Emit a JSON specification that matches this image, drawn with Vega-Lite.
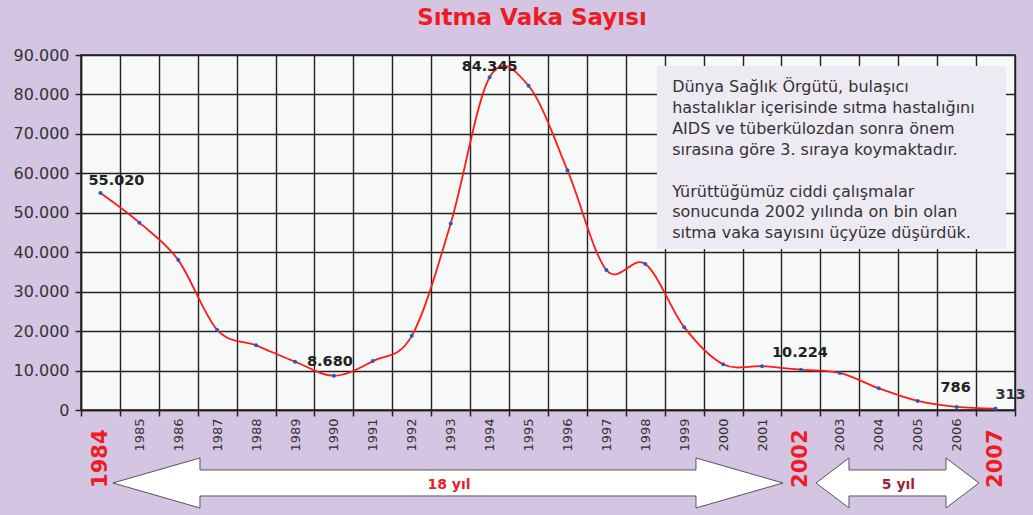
{
  "$schema": "https://vega.github.io/schema/vega-lite/v6.json",
  "width": 934,
  "height": 355,
  "autosize": {"type": "none"},
  "padding": {"left": 81, "top": 55, "right": 18, "bottom": 105},
  "background": "#d4c6e2",
  "title": {
    "text": "Sıtma Vaka Sayısı",
    "font": "DejaVu Sans",
    "fontSize": 23,
    "fontWeight": "bold",
    "color": "#ed1c24",
    "anchor": "middle",
    "frame": "group",
    "dx": -16,
    "offset": -1,
    "baseline": "alphabetic"
  },
  "config": {
    "view": {"fill": "#f7f8f8", "stroke": "#222222", "strokeWidth": 1.5},
    "font": "DejaVu Sans",
    "axisY": {
      "title": null,
      "values": [0, 10000, 20000, 30000, 40000, 50000, 60000, 70000, 80000, 90000],
      "labelExpr": "replace(format(datum.value, ','), ',', '.')",
      "labelOverlap": false,
      "grid": true,
      "gridColor": "#222222",
      "gridWidth": 1.4,
      "gridOpacity": 1,
      "domainColor": "#222222",
      "domainWidth": 1.5,
      "tickColor": "#222222",
      "tickWidth": 1.5,
      "tickSize": 6,
      "labelPadding": 6,
      "labelFont": "DejaVu Sans",
      "labelFontSize": 16,
      "labelColor": "#333333"
    }
  },
  "datasets": {
    "malaria": [
      {"year": "1984", "v": 55020, "label": "55.020"},
      {"year": "1985", "v": 47500},
      {"year": "1986", "v": 38000},
      {"year": "1987", "v": 20300},
      {"year": "1988", "v": 16400},
      {"year": "1989", "v": 12250},
      {"year": "1990", "v": 8680, "label": "8.680"},
      {"year": "1991", "v": 12400},
      {"year": "1992", "v": 18800},
      {"year": "1993", "v": 47300},
      {"year": "1994", "v": 84345, "label": "84.345"},
      {"year": "1995", "v": 82200},
      {"year": "1996", "v": 60800},
      {"year": "1997", "v": 35500},
      {"year": "1998", "v": 37000},
      {"year": "1999", "v": 21000},
      {"year": "2000", "v": 11600},
      {"year": "2001", "v": 11100},
      {"year": "2002", "v": 10224, "label": "10.224"},
      {"year": "2003", "v": 9400},
      {"year": "2004", "v": 5500},
      {"year": "2005", "v": 2300},
      {"year": "2006", "v": 786, "label": "786"},
      {"year": "2007", "v": 313, "label": "313"}
    ],
    "box": [{"x0": 14.8, "x1": 23.77, "v": 87200, "v2": 40800}],
    "note": [
      {"px": 15.19, "v": 83900, "text": ["Dünya Sağlık Örgütü, bulaşıcı", "hastalıklar içerisinde sıtma hastalığını", "AIDS ve tüberkülozdan sonra önem", "sırasına göre 3. sıraya koymaktadır."]},
      {"px": 15.19, "v": 57400, "text": ["Yürüttüğümüz ciddi çalışmalar", "sonucunda 2002 yılında on bin olan", "sıtma vaka sayısını üçyüze düşürdük."]}
    ],
    "arrows": [
      {"px": 9.43, "v": -18500, "label": "18 yıl", "kind": "long"},
      {"px": 20.98, "v": -18500, "label": "5 yıl", "kind": "short"}
    ]
  },
  "resolve": {"scale": {"x": "independent"}, "axis": {"x": "independent"}},
  "layer": [
    {
      "data": {"name": "box"},
      "mark": {"type": "rect", "fill": "#eeeaf3", "stroke": null},
      "encoding": {
        "x": {"field": "x0", "type": "quantitative", "scale": {"domain": [0, 24], "nice": false, "zero": false}, "axis": null},
        "x2": {"field": "x1"},
        "y": {"field": "v", "type": "quantitative", "scale": {"domain": [0, 90000], "nice": false}, "title": null},
        "y2": {"field": "v2"}
      }
    },
    {
      "data": {"name": "malaria"},
      "layer": [
        {
          "mark": {"type": "line", "color": "#ff1a1a", "strokeWidth": 1.8, "interpolate": "cardinal"},
          "encoding": {
            "x": {
              "field": "year", "type": "ordinal",
              "scale": {"type": "band", "paddingInner": 0, "paddingOuter": 0},
              "axis": {
                "title": null,
                "tickBand": "extent",
                "grid": true,
                "gridColor": "#222222",
                "gridWidth": 1.4,
                "gridOpacity": 1,
                "domainColor": "#222222",
                "domainWidth": 1.5,
                "tickColor": "#222222",
                "tickWidth": 1.5,
                "tickSize": 6,
                "labelAngle": -90,
                "labelFont": "DejaVu Sans",
                "labelFontSize": {"condition": {"test": "datum.value == '1984' || datum.value == '2002' || datum.value == '2007'", "value": 21}, "value": 13},
                "labelFontWeight": {"condition": {"test": "datum.value == '1984' || datum.value == '2002' || datum.value == '2007'", "value": "bold"}, "value": "normal"},
                "labelColor": {"condition": {"test": "datum.value == '1984' || datum.value == '2002' || datum.value == '2007'", "value": "#ee1c25"}, "value": "#333333"},
                "labelPadding": {"condition": {"test": "datum.value == '1984' || datum.value == '2002' || datum.value == '2007'", "value": 13}, "value": 2}
              }
            },
            "y": {"field": "v", "type": "quantitative", "scale": {"domain": [0, 90000], "nice": false}, "title": null}
          }
        },
        {
          "mark": {"type": "point", "filled": true, "color": "#1f5cc4", "size": 16, "opacity": 1},
          "encoding": {
            "x": {"field": "year", "type": "ordinal"},
            "y": {"field": "v", "type": "quantitative"}
          }
        },
        {
          "transform": [{"filter": "datum.year == '1984'"}],
          "mark": {"type": "text", "font": "DejaVu Sans", "fontWeight": "bold", "fontSize": 14.5, "color": "#222222", "baseline": "alphabetic", "align": "center", "dx": 16, "dy": -8},
          "encoding": {"x": {"field": "year", "type": "ordinal"}, "y": {"field": "v", "type": "quantitative"}, "text": {"field": "label"}}
        },
        {
          "transform": [{"filter": "datum.year == '1990'"}],
          "mark": {"type": "text", "font": "DejaVu Sans", "fontWeight": "bold", "fontSize": 14.5, "color": "#222222", "baseline": "alphabetic", "align": "center", "dx": -4, "dy": -10},
          "encoding": {"x": {"field": "year", "type": "ordinal"}, "y": {"field": "v", "type": "quantitative"}, "text": {"field": "label"}}
        },
        {
          "transform": [{"filter": "datum.year == '1994'"}],
          "mark": {"type": "text", "font": "DejaVu Sans", "fontWeight": "bold", "fontSize": 14.5, "color": "#222222", "baseline": "alphabetic", "align": "center", "dx": 0, "dy": -6},
          "encoding": {"x": {"field": "year", "type": "ordinal"}, "y": {"field": "v", "type": "quantitative"}, "text": {"field": "label"}}
        },
        {
          "transform": [{"filter": "datum.year == '2002'"}],
          "mark": {"type": "text", "font": "DejaVu Sans", "fontWeight": "bold", "fontSize": 14.5, "color": "#222222", "baseline": "alphabetic", "align": "center", "dx": -1, "dy": -13},
          "encoding": {"x": {"field": "year", "type": "ordinal"}, "y": {"field": "v", "type": "quantitative"}, "text": {"field": "label"}}
        },
        {
          "transform": [{"filter": "datum.year == '2006'"}],
          "mark": {"type": "text", "font": "DejaVu Sans", "fontWeight": "bold", "fontSize": 14.5, "color": "#222222", "baseline": "alphabetic", "align": "center", "dx": -1, "dy": -15},
          "encoding": {"x": {"field": "year", "type": "ordinal"}, "y": {"field": "v", "type": "quantitative"}, "text": {"field": "label"}}
        },
        {
          "transform": [{"filter": "datum.year == '2007'"}],
          "mark": {"type": "text", "font": "DejaVu Sans", "fontWeight": "bold", "fontSize": 14.5, "color": "#333344", "baseline": "alphabetic", "align": "center", "dx": 15, "dy": -10},
          "encoding": {"x": {"field": "year", "type": "ordinal"}, "y": {"field": "v", "type": "quantitative"}, "text": {"field": "label"}}
        }
      ]
    },
    {
      "data": {"name": "note"},
      "mark": {"type": "text", "font": "DejaVu Sans", "fontSize": 16, "color": "#333333", "align": "left", "baseline": "top", "lineHeight": 20.9},
      "encoding": {
        "x": {"field": "px", "type": "quantitative", "scale": {"domain": [0, 24], "nice": false, "zero": false}, "axis": null},
        "y": {"field": "v", "type": "quantitative", "scale": {"domain": [0, 90000], "nice": false}, "title": null},
        "text": {"field": "text"}
      }
    },
    {
      "data": {"name": "arrows"},
      "mark": {"type": "point", "filled": true, "fill": "#ffffff", "stroke": "#555555", "strokeWidth": 1, "size": 4, "opacity": 1},
      "encoding": {
        "x": {"field": "px", "type": "quantitative", "scale": {"domain": [0, 24], "nice": false, "zero": false}, "axis": null},
        "y": {"field": "v", "type": "quantitative", "scale": {"domain": [0, 90000], "nice": false}, "title": null},
        "shape": {
          "field": "kind", "type": "nominal", "legend": null,
          "scale": {"domain": ["long", "short"], "range": [
            "M -335 0 L -248 -25 L -248 -13 L 248 -13 L 248 -25 L 335 0 L 248 25 L 248 13 L -248 13 L -248 25 Z",
            "M -81.5 0 L -48.5 -25 L -48.5 -13 L 48.5 -13 L 48.5 -25 L 81.5 0 L 48.5 25 L 48.5 13 L -48.5 13 L -48.5 25 Z"
          ]}
        }
      }
    },
    {
      "data": {"name": "arrows"},
      "mark": {"type": "text", "font": "DejaVu Sans", "fontWeight": "bold", "fontSize": 14, "align": "center", "baseline": "middle", "dy": 2, "dx": 1},
      "encoding": {
        "x": {"field": "px", "type": "quantitative", "scale": {"domain": [0, 24], "nice": false, "zero": false}, "axis": null},
        "y": {"field": "v", "type": "quantitative", "scale": {"domain": [0, 90000], "nice": false}, "title": null},
        "text": {"field": "label"},
        "color": {"field": "kind", "type": "nominal", "legend": null, "scale": {"domain": ["long", "short"], "range": ["#e8202a", "#a31d36"]}}
      }
    }
  ]
}
